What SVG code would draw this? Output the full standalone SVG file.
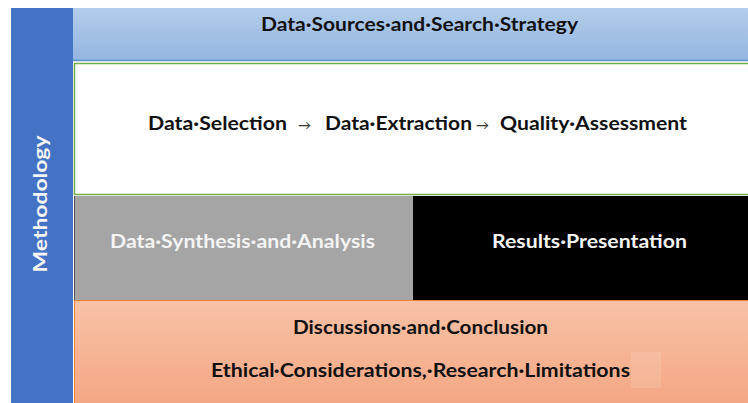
<svg xmlns="http://www.w3.org/2000/svg" width="748" height="403" viewBox="0 0 748 403">
  <defs>
    <linearGradient id="gTop" x1="0" y1="0" x2="0" y2="1">
      <stop offset="0" stop-color="#b3cdeb"/>
      <stop offset="1" stop-color="#93b5e0"/>
    </linearGradient>
    <linearGradient id="gBottom" x1="0" y1="0" x2="0" y2="1">
      <stop offset="0" stop-color="#f8c2a6"/>
      <stop offset="1" stop-color="#f4a784"/>
    </linearGradient>
  </defs>
  <style>
    text { font-family: "Lato", "Liberation Sans", sans-serif; font-weight: bold; font-size: 18px; }
    .dark { fill: #111111; }
    .light { fill: #f4f4f4; }
    .arrow { font-size: 13px; font-weight: normal; fill: #333333; }
  </style>
  <rect width="748" height="403" fill="#ffffff"/>

  <g id="methodology">
    <rect x="11" y="8" width="62" height="395" fill="#4472c4"/>
    <text class="light" transform="translate(47,204) rotate(-90)" text-anchor="middle" textLength="137" lengthAdjust="spacingAndGlyphs">Methodology</text>
  </g>

  <g id="sources">
    <rect x="73" y="8" width="675" height="53" fill="url(#gTop)"/>
    <line x1="73" y1="60.5" x2="748" y2="60.5" stroke="#5b8fd0" stroke-width="1.5"/>
    <text class="dark" x="261" y="31" textLength="317" lengthAdjust="spacingAndGlyphs">Data·Sources·and·Search·Strategy</text>
  </g>

  <g id="selection">
    <rect x="74.5" y="63.5" width="680" height="131" fill="#ffffff" stroke="#70ad47" stroke-width="1.5"/>
    <text class="dark" x="148" y="130">
      <tspan x="148" textLength="139" lengthAdjust="spacingAndGlyphs">Data·Selection</tspan>
      <tspan class="arrow" x="298">→</tspan>
      <tspan x="325" textLength="147" lengthAdjust="spacingAndGlyphs">Data·Extraction</tspan>
      <tspan class="arrow" x="476">→</tspan>
      <tspan x="500" textLength="187" lengthAdjust="spacingAndGlyphs">Quality·Assessment</tspan>
    </text>
  </g>

  <g id="synthesis">
    <rect x="74" y="196" width="339" height="104" fill="#a5a5a5"/>
    <line x1="74.5" y1="196" x2="74.5" y2="300" stroke="#555555" stroke-width="1"/>
    <text class="light" x="110" y="248" textLength="265" lengthAdjust="spacingAndGlyphs">Data·Synthesis·and·Analysis</text>
  </g>

  <g id="results">
    <rect x="413" y="196" width="335" height="104" fill="#000000"/>
    <text class="light" x="492" y="248" textLength="195" lengthAdjust="spacingAndGlyphs">Results·Presentation</text>
  </g>

  <g id="discussion">
    <rect x="74" y="300" width="674" height="103" fill="url(#gBottom)"/>
    <line x1="74" y1="300.5" x2="748" y2="300.5" stroke="#ed7d31" stroke-width="1.2"/>
    <line x1="74.5" y1="300" x2="74.5" y2="403" stroke="#ed7d31" stroke-width="1"/>
    <rect x="631" y="352" width="30" height="36" fill="#ffffff" opacity="0.12"/>
    <text class="dark" x="293" y="334" textLength="255" lengthAdjust="spacingAndGlyphs">Discussions·and·Conclusion</text>
    <text class="dark" x="211" y="377" textLength="419" lengthAdjust="spacingAndGlyphs">Ethical·Considerations,·Research·Limitations</text>
  </g>
</svg>
